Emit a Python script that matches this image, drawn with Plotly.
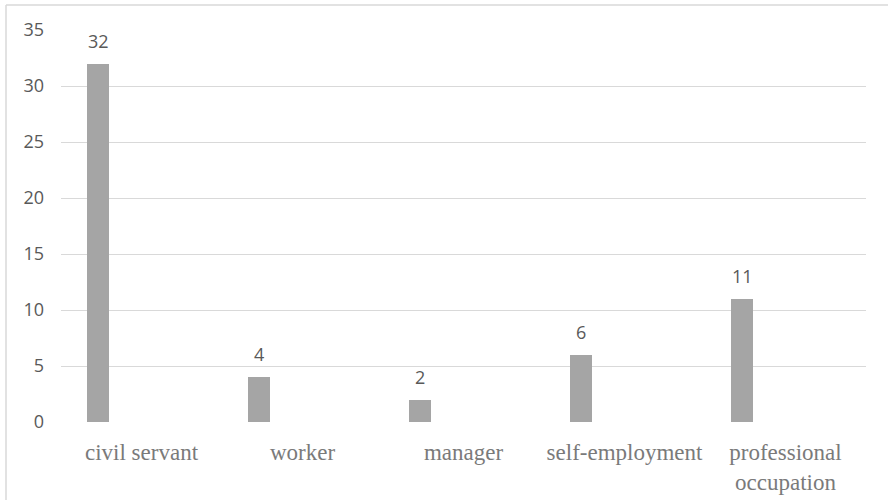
import plotly.graph_objects as go

categories = ["civil servant", "worker", "manager", "self-employment", "professional<br>occupation"]
values = [32, 4, 2, 6, 11]
y_ticks = [0, 5, 10, 15, 20, 25, 30, 35]

W, H = 888, 500
L, R, T, B = 61, 22, 30, 78
pw = W - L - R
ph = H - T - B

fig = go.Figure()
fig.add_trace(go.Bar(
    x=categories, y=values,
    width=0.137, offset=-0.3385,
    marker=dict(color="#a5a5a5", line=dict(width=0)),
    hoverinfo="x+y",
))

for c, v in zip(categories, values):
    fig.add_annotation(
        x=c, y=v, xref="x", yref="y", text=str(v), showarrow=False,
        xanchor="center", yanchor="bottom", xshift=-43.5, yshift=9,
        font=dict(family="Open Sans", size=18, color="#595959"),
    )

# chart border (top and left)
fig.add_shape(type="line", xref="paper", yref="paper",
              x0=(6 - L) / pw, x1=(W - L) / pw, y0=(H - B - 5) / ph, y1=(H - B - 5) / ph,
              line=dict(color="#d9d9d9", width=1.5))
fig.add_shape(type="line", xref="paper", yref="paper",
              x0=(6 - L) / pw, x1=(6 - L) / pw, y0=(H - B - 5) / ph, y1=-B / ph,
              line=dict(color="#d9d9d9", width=1.5))

fig.update_layout(
    width=W, height=H,
    margin=dict(l=L, r=R, t=T, b=B, autoexpand=False),
    paper_bgcolor="white", plot_bgcolor="white",
    showlegend=False,
    bargap=0,
    xaxis=dict(
        type="category", showgrid=False, showline=False, ticks="", automargin=False,
        tickfont=dict(family="Liberation Serif", size=23, color="#7a7a7a"),
        ticklabelstandoff=14,
    ),
    yaxis=dict(
        range=[0, 35], tickvals=y_ticks, showgrid=True, gridcolor="#d9d9d9", gridwidth=1,
        zeroline=False, showline=False, ticks="", automargin=False,
        tickfont=dict(family="Open Sans", size=18, color="#595959"),
        ticklabelstandoff=16,
    ),
)

fig.write_html("out.html")
